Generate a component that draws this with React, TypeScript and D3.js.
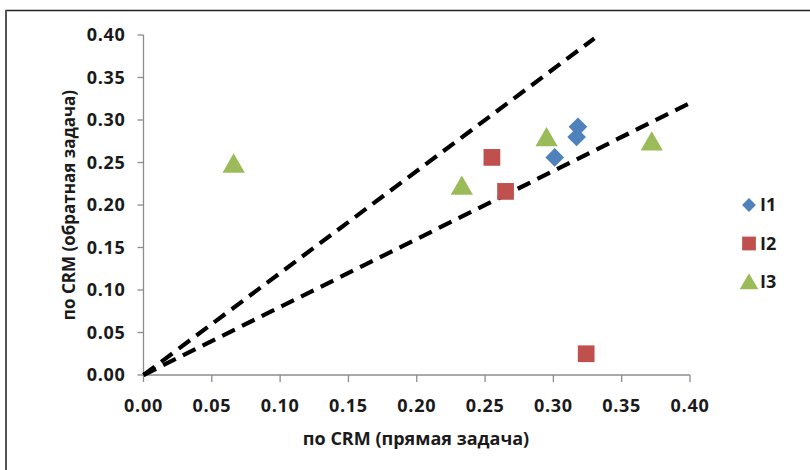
import React from "react";
import * as d3 from "d3";

// Scatter of CRM estimates: direct problem (x) vs inverse problem (y)
const seriesNames = ["I1", "I2", "I3"];
const seriesColors = ["#4F81BD", "#C0504D", "#9BBB59"];

const i1X = [0.318, 0.317, 0.301];
const i1Y = [0.292, 0.280, 0.256];
const i2X = [0.255, 0.265, 0.324];
const i2Y = [0.256, 0.216, 0.025];
const i3X = [0.066, 0.233, 0.295, 0.372];
const i3Y = [0.248, 0.222, 0.279, 0.274];

// ±20% reference lines through the origin
const guideSlopes = [1.2, 0.8];
const guideEnds = [0.33, 0.4];

const xTicks = [0, 0.05, 0.1, 0.15, 0.2, 0.25, 0.3, 0.35, 0.4];
const yTicks = [0, 0.05, 0.1, 0.15, 0.2, 0.25, 0.3, 0.35, 0.4];

const xTitle = "по CRM (прямая задача)";
const yTitle = "по CRM (обратная задача)";

const W = 810;
const H = 470;
const FONT = "'Open Sans', 'DejaVu Sans', sans-serif";

// marker shapes: diamond is a square turned by 45°
const symbolDefs = [
  { type: d3.symbolSquare, rotate: 45, size: 175, legendSize: 95, dy: 0 },
  { type: d3.symbolSquare, rotate: 0, size: 280, legendSize: 190, dy: 0 },
  { type: d3.symbolTriangle, rotate: 0, size: 215, legendSize: 150, dy: 2 },
];

export default function App() {
  const x = d3.scaleLinear().domain([0, 0.4]).range([143.5, 690]);
  const y = d3.scaleLinear().domain([0, 0.4]).range([375, 35]);
  const fmt = d3.format(".2f");

  const series = [
    { xs: i1X, ys: i1Y },
    { xs: i2X, ys: i2Y },
    { xs: i3X, ys: i3Y },
  ];

  const line = d3
    .line<[number, number]>()
    .x((d) => x(d[0]))
    .y((d) => y(d[1]));

  const tickStyle = {
    fontFamily: FONT,
    fontWeight: 700,
    fontSize: 18,
    letterSpacing: 0.7,
    fill: "#1a1a1a",
  } as const;

  return (
    <div style={{ position: "absolute", left: 0, top: 0 }}>
      <svg width={W} height={H} style={{ display: "block", background: "#fff" }}>
        {/* frame */}
        <line x1={5.5} x2={W} y1={10.5} y2={10.5} stroke="#222" strokeWidth={1.6} />
        <line x1={6} x2={6} y1={10} y2={H} stroke="#555" strokeWidth={2} />

        {/* y axis */}
        <line x1={x(0)} x2={x(0)} y1={y(0.4)} y2={y(0)} stroke="#8c8c8c" strokeWidth={1.3} />
        {yTicks.map((t) => (
          <g key={"y" + t}>
            <line x1={x(0) - 6} x2={x(0)} y1={y(t)} y2={y(t)} stroke="#8c8c8c" strokeWidth={1.3} />
            <text x={x(0) - 18} y={y(t)} dy="0.36em" textAnchor="end" {...tickStyle}>
              {fmt(t)}
            </text>
          </g>
        ))}

        {/* x axis */}
        <line x1={x(0)} x2={x(0.4)} y1={y(0)} y2={y(0)} stroke="#8c8c8c" strokeWidth={1.3} />
        {xTicks.map((t) => (
          <g key={"x" + t}>
            <line x1={x(t)} x2={x(t)} y1={y(0)} y2={y(0) + 7} stroke="#8c8c8c" strokeWidth={1.3} />
            <text x={x(t)} y={y(0) + 37} textAnchor="middle" {...tickStyle}>
              {fmt(t)}
            </text>
          </g>
        ))}

        {/* axis titles */}
        <text
          x={416}
          y={445}
          textAnchor="middle"
          fontFamily={FONT}
          fontWeight={700}
          fontSize={18}
          fill="#1a1a1a"
        >
          {xTitle}
        </text>
        <text
          transform={`translate(75,205) rotate(-90)`}
          textAnchor="middle"
          fontFamily={FONT}
          fontWeight={700}
          fontSize={17}
          fill="#1a1a1a"
        >
          {yTitle}
        </text>

        {/* reference lines */}
        {guideSlopes.map((s, i) => (
          <path
            key={"g" + i}
            d={line([
              [0, 0],
              [guideEnds[i], guideEnds[i] * s],
            ]) as string}
            fill="none"
            stroke="#000"
            strokeWidth={4.2}
            strokeDasharray="14 8"
          />
        ))}

        {/* points */}
        {series.map((s, si) =>
          s.xs.map((xv, j) => (
            <path
              key={`p${si}-${j}`}
              d={d3.symbol(symbolDefs[si].type, symbolDefs[si].size)() as string}
              transform={`translate(${x(xv)},${y(s.ys[j]) + symbolDefs[si].dy}) rotate(${symbolDefs[si].rotate})`}
              fill={seriesColors[si]}
            />
          ))
        )}

        {/* legend */}
        {seriesNames.map((n, i) => {
          const ly = 205 + i * 38.5;
          return (
            <g key={n}>
              <path
                d={d3.symbol(symbolDefs[i].type, symbolDefs[i].legendSize)() as string}
                transform={`translate(749,${ly + symbolDefs[i].dy}) rotate(${symbolDefs[i].rotate})`}
                fill={seriesColors[i]}
              />
              <text
                x={760}
                y={ly}
                dy="0.36em"
                fontFamily={FONT}
                fontWeight={700}
                fontSize={18}
                fill="#1a1a1a"
              >
                {n}
              </text>
            </g>
          );
        })}
      </svg>
    </div>
  );
}
